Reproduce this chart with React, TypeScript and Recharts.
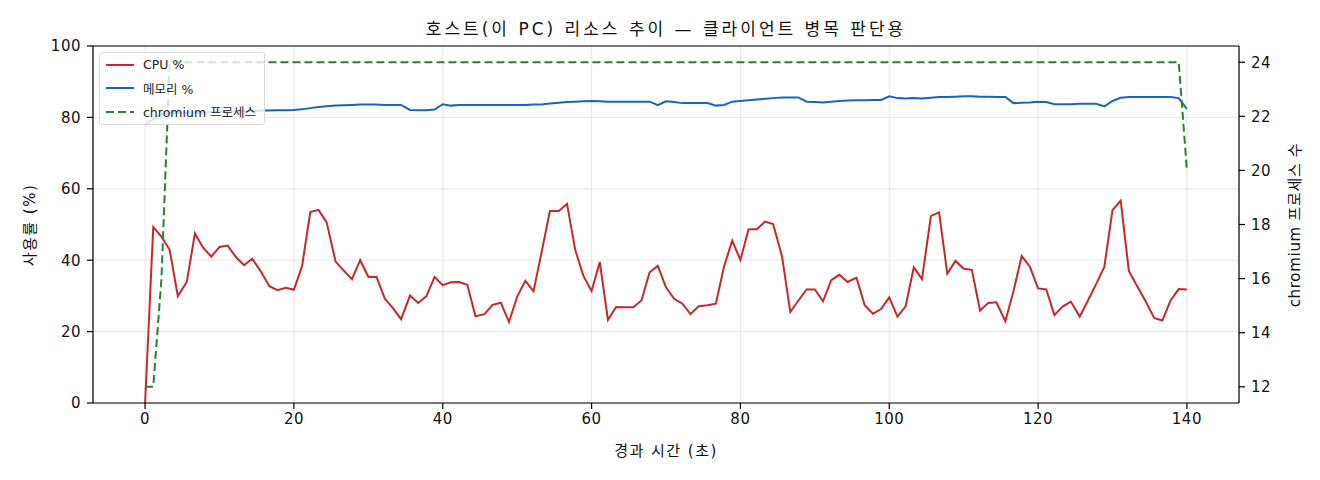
import React from 'react';
import {
  LineChart,
  Line,
  XAxis,
  YAxis,
  CartesianGrid,
  Legend,
  ReferenceLine,
} from 'recharts';

// elapsed seconds of each sample
const elapsed = [
  0, 1.1, 2.2, 3.3, 4.4, 5.6, 6.7, 7.8, 8.9,
  10, 11.1, 12.2, 13.3, 14.4, 15.6, 16.7, 17.8, 18.9,
  20, 21.1, 22.2, 23.3, 24.4, 25.6, 26.7, 27.8, 28.9,
  30, 31.1, 32.2, 33.3, 34.4, 35.6, 36.7, 37.8, 38.9,
  40, 41.1, 42.2, 43.3, 44.4, 45.6, 46.7, 47.8, 48.9,
  50, 51.1, 52.2, 53.3, 54.4, 55.6, 56.7, 57.8, 58.9,
  60, 61.1, 62.2, 63.3, 64.4, 65.6, 66.7, 67.8, 68.9,
  70, 71.1, 72.2, 73.3, 74.4, 75.6, 76.7, 77.8, 78.9,
  80, 81.1, 82.2, 83.3, 84.4, 85.6, 86.7, 87.8, 88.9,
  90, 91.1, 92.2, 93.3, 94.4, 95.6, 96.7, 97.8, 98.9,
  100, 101.1, 102.2, 103.3, 104.4, 105.6, 106.7, 107.8, 108.9,
  110, 111.1, 112.2, 113.3, 114.4, 115.6, 116.7, 117.8, 118.9,
  120, 121.1, 122.2, 123.3, 124.4, 125.6, 126.7, 127.8, 128.9,
  130, 131.1, 132.2, 133.3, 134.4, 135.6, 136.7, 137.8, 138.9,
  140,
];

const cpu = [
  0, 49.3, 46.6, 42.9, 29.9, 33.9, 47.5, 43.5, 41.0, 43.7,
  44.1, 40.9, 38.6, 40.4, 36.7, 32.7, 31.6, 32.3, 31.7, 38.4,
  53.5, 54.1, 50.6, 39.6, 37.1, 34.7, 40.0, 35.3, 35.3, 29.3,
  26.6, 23.5, 30.1, 28.0, 29.9, 35.3, 33.0, 33.8, 33.9, 33.1,
  24.3, 24.9, 27.5, 28.1, 22.7, 29.8, 34.2, 31.3, 42.4, 53.8,
  53.8, 55.8, 42.9, 35.6, 31.4, 39.5, 23.3, 26.9, 26.8, 26.8,
  28.7, 36.6, 38.4, 32.4, 29.2, 27.8, 24.9, 27.1, 27.4, 27.8,
  38.2, 45.5, 40.1, 48.7, 48.7, 50.8, 50.1, 41.0, 25.5, 28.7,
  31.8, 31.8, 28.5, 34.4, 35.9, 33.9, 35.1, 27.4, 25.0, 26.3,
  29.6, 24.2, 27.1, 38.0, 34.7, 52.4, 53.4, 36.2, 39.8, 37.6,
  37.3, 25.9, 28.0, 28.2, 22.9, 31.4, 41.2, 38.2, 32.1, 31.8,
  24.6, 27.0, 28.4, 24.2, 28.7, 33.3, 38.1, 54.0, 56.7, 37.0,
  32.8, 28.7, 23.8, 23.1, 28.7, 31.9, 31.8,
];

const memory = [
  78.0, 79.5, 81.0, 81.2, 81.3, 81.3, 81.4, 81.4, 81.5, 81.5,
  81.6, 81.7, 81.7, 81.8, 81.9, 81.9, 82.0, 82.0, 82.05, 82.3,
  82.6, 82.9, 83.1, 83.3, 83.4, 83.5, 83.6, 83.6, 83.6, 83.5,
  83.5, 83.5, 82.1, 82.0, 82.0, 82.2, 83.7, 83.3, 83.5, 83.5,
  83.5, 83.5, 83.5, 83.5, 83.5, 83.5, 83.5, 83.6, 83.6, 83.9,
  84.1, 84.3, 84.4, 84.5, 84.6, 84.5, 84.4, 84.4, 84.4, 84.4,
  84.4, 84.4, 83.4, 84.5, 84.3, 84.0, 84.0, 84.0, 84.0, 83.3,
  83.5, 84.4, 84.6, 84.8, 85.0, 85.2, 85.4, 85.6, 85.6, 85.6,
  84.4, 84.3, 84.2, 84.4, 84.6, 84.7, 84.8, 84.8, 84.9, 84.9,
  85.9, 85.4, 85.3, 85.4, 85.3, 85.5, 85.7, 85.7, 85.8, 85.9,
  85.9, 85.8, 85.8, 85.7, 85.7, 84.0, 84.1, 84.2, 84.4, 84.3,
  83.7, 83.7, 83.7, 83.8, 83.8, 83.8, 83.1, 84.6, 85.5, 85.7,
  85.7, 85.7, 85.7, 85.7, 85.7, 85.4, 82.4,
];

const chromiumProcs = [
  12, 12, 16, 24, 24, 24, 24, 24, 24, 24,
  24, 24, 24, 24, 24, 24, 24, 24, 24, 24,
  24, 24, 24, 24, 24, 24, 24, 24, 24, 24,
  24, 24, 24, 24, 24, 24, 24, 24, 24, 24,
  24, 24, 24, 24, 24, 24, 24, 24, 24, 24,
  24, 24, 24, 24, 24, 24, 24, 24, 24, 24,
  24, 24, 24, 24, 24, 24, 24, 24, 24, 24,
  24, 24, 24, 24, 24, 24, 24, 24, 24, 24,
  24, 24, 24, 24, 24, 24, 24, 24, 24, 24,
  24, 24, 24, 24, 24, 24, 24, 24, 24, 24,
  24, 24, 24, 24, 24, 24, 24, 24, 24, 24,
  24, 24, 24, 24, 24, 24, 24, 24, 24, 24,
  24, 24, 24, 24, 24, 24, 20,
];

const xTicks = [0, 20, 40, 60, 80, 100, 120, 140];
const leftTicks = [0, 20, 40, 60, 80, 100];
const rightTicks = [12, 14, 16, 18, 20, 22, 24];

const series = [
  { key: 'cpu', name: 'CPU %', color: '#c62828', axis: 'left', dash: undefined },
  { key: 'mem', name: '메모리 %', color: '#1565c0', axis: 'left', dash: undefined },
  { key: 'procs', name: 'chromium 프로세스', color: '#2e7d32', axis: 'right', dash: '8 4' },
];

const data = elapsed.map((t, i) => ({
  t,
  cpu: cpu[i],
  mem: memory[i],
  procs: chromiumProcs[i],
}));

const FONT = '"DejaVu Sans", "Noto Sans CJK KR", sans-serif';
const tickStyle = { fontSize: 15, fill: '#111', fontFamily: FONT, letterSpacing: 0.5 };

const LegendBox = () => (
  <div
    style={{
      border: '1px solid #d8d8d8',
      borderRadius: 3,
      background: 'rgba(255,255,255,0.8)',
      padding: '0 8px 0 5px',
      fontFamily: FONT,
      fontSize: 12.5,
      color: '#222',
    }}
  >
    {series.map((s) => (
      <div key={s.key} style={{ display: 'flex', alignItems: 'center', height: 23.5 }}>
        <svg width={30} height={6} style={{ marginRight: 8 }}>
          <line
            x1={1}
            y1={3}
            x2={29}
            y2={3}
            stroke={s.color}
            strokeWidth={2}
            strokeDasharray={s.dash}
          />
        </svg>
        <span>{s.name}</span>
      </div>
    ))}
  </div>
);

export default function App() {
  return (
    <div
      style={{
        position: 'absolute',
        left: 0,
        top: 0,
        width: 1320,
        height: 480,
        background: '#fff',
        fontFamily: FONT,
      }}
    >
      <div
        style={{
          position: 'absolute',
          top: 15,
          left: 0,
          width: 1332,
          textAlign: 'center',
          fontSize: 17,
          letterSpacing: 3,
          color: '#111',
        }}
      >
        호스트(이 PC) 리소스 추이 — 클라이언트 병목 판단용
      </div>

      <LineChart
        width={1320}
        height={480}
        data={data}
        margin={{ top: 46, right: 21, left: 33, bottom: 47 }}
      >
        <CartesianGrid yAxisId="left" stroke="#e6e6e6" strokeWidth={1} />
        <XAxis
          dataKey="t"
          type="number"
          domain={[-7, 147]}
          ticks={xTicks}
          allowDataOverflow
          height={30}
          tickSize={6}
          tickMargin={4}
          tick={tickStyle}
          stroke="#000"
          axisLine={{ stroke: '#000', strokeWidth: 1.2 }}
          tickLine={{ stroke: '#000', strokeWidth: 1.2 }}
        />
        <YAxis
          yAxisId="left"
          domain={[0, 100]}
          ticks={leftTicks}
          allowDataOverflow
          width={60}
          tickSize={6}
          tickMargin={6}
          tick={tickStyle}
          axisLine={{ stroke: '#000', strokeWidth: 1.2 }}
          tickLine={{ stroke: '#000', strokeWidth: 1.2 }}
        />
        <YAxis
          yAxisId="right"
          orientation="right"
          domain={[11.4, 24.6]}
          ticks={rightTicks}
          allowDataOverflow
          width={60}
          tickSize={6}
          tickMargin={6}
          tick={tickStyle}
          axisLine={{ stroke: '#000', strokeWidth: 1.2 }}
          tickLine={{ stroke: '#000', strokeWidth: 1.2 }}
        />
        <ReferenceLine yAxisId="left" y={100} stroke="#000" strokeWidth={1.2} />
        {series.map((s) => (
          <Line
            key={s.key}
            yAxisId={s.axis}
            type="linear"
            dataKey={s.key}
            name={s.name}
            stroke={s.color}
            strokeWidth={2}
            strokeDasharray={s.dash}
            dot={false}
            activeDot={false}
            isAnimationActive={false}
          />
        ))}
        <Legend
          layout="vertical"
          align="center"
          verticalAlign="middle"
          content={<LegendBox />}
          wrapperStyle={{ left: 99, top: 52, width: 'auto' }}
        />
      </LineChart>

      <div
        style={{
          position: 'absolute',
          left: 0,
          top: 439,
          width: 1332,
          textAlign: 'center',
          fontSize: 15,
          letterSpacing: 1.5,
          color: '#111',
        }}
      >
        경과 시간 (초)
      </div>
      <div
        style={{
          position: 'absolute',
          left: 28,
          top: 225,
          transform: 'translate(-50%, -50%) rotate(-90deg)',
          whiteSpace: 'nowrap',
          fontSize: 15,
          letterSpacing: 1.5,
          color: '#111',
        }}
      >
        사용률 (%)
      </div>
      <div
        style={{
          position: 'absolute',
          left: 1293,
          top: 225,
          transform: 'translate(-50%, -50%) rotate(-90deg)',
          whiteSpace: 'nowrap',
          fontSize: 15,
          letterSpacing: 0.7,
          color: '#111',
        }}
      >
        chromium 프로세스 수
      </div>
    </div>
  );
}
